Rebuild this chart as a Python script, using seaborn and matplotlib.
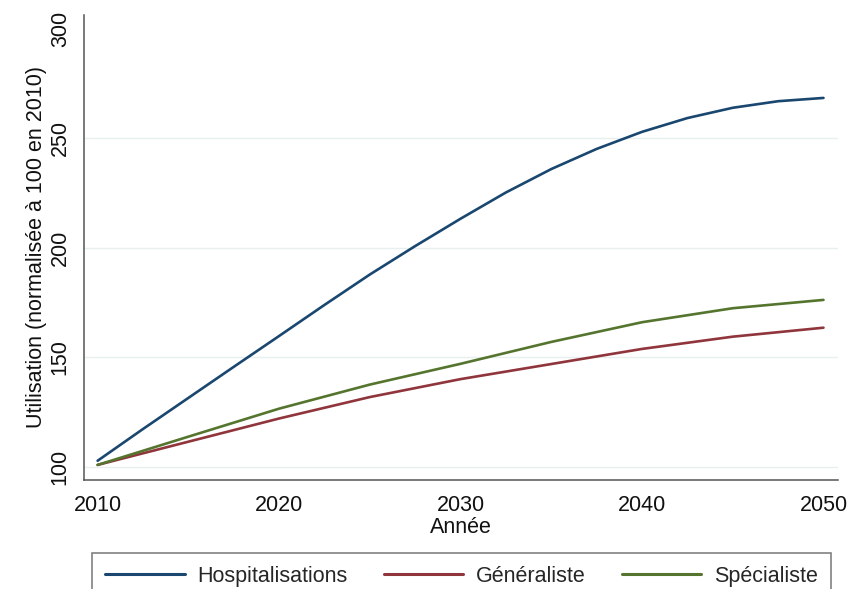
import numpy as np
import pandas as pd
import seaborn as sns
import matplotlib.pyplot as plt

# values
annees_h = [2010, 2012.5, 2015, 2017.5, 2020, 2022.5, 2025, 2027.5, 2030,
            2032.5, 2035, 2037.5, 2040, 2042.5, 2045, 2047.5, 2050]
hospitalisations = [102.7, 117.2, 131.4, 145.6, 159.7, 173.9, 187.8, 200.8, 213.3,
                    225.3, 236.0, 245.2, 253.0, 259.3, 264.0, 267.0, 268.5]
annees = [2010, 2015, 2020, 2025, 2030, 2035, 2040, 2045, 2050]
generaliste = [100.8, 111.4, 122.0, 131.8, 140.0, 146.9, 153.8, 159.4, 163.5]
specialiste = [100.8, 113.7, 126.5, 137.5, 147.0, 157.0, 166.0, 172.4, 176.2]

series = ['Hospitalisations', 'Généraliste', 'Spécialiste']
couleurs = ['#1a476f', '#90353b', '#55752f']

df = pd.concat([
    pd.DataFrame({'Année': annees_h, 'valeur': hospitalisations, 'serie': series[0]}),
    pd.DataFrame({'Année': annees, 'valeur': generaliste, 'serie': series[1]}),
    pd.DataFrame({'Année': annees, 'valeur': specialiste, 'serie': series[2]}),
], ignore_index=True)

sns.set_style('white')
plt.rcParams['font.family'] = ['Liberation Sans', 'DejaVu Sans']
plt.rcParams['font.size'] = 15.5

fig = plt.figure(figsize=(8.49, 5.89), dpi=100)
ax = fig.add_axes([84 / 849, 1 - 480 / 589, (838 - 84) / 849, (480 - 15) / 589])

sns.lineplot(data=df, x='Année', y='valeur', hue='serie', hue_order=series,
             palette=dict(zip(series, couleurs)), linewidth=1.9, ax=ax)

ax.set_xlim(2009.25, 2050.8)
ax.set_ylim(93.9, 306.4)
ax.set_xticks([2010, 2020, 2030, 2040, 2050])
ax.set_yticks([100, 150, 200, 250, 300])
for v in [100, 150, 200, 250]:
    ax.axhline(v, color='#e8efef', lw=1.0, zorder=0)

for s in ['top', 'right']:
    ax.spines[s].set_visible(False)
for s in ['left', 'bottom']:
    ax.spines[s].set_color('#555555')
    ax.spines[s].set_linewidth(1.1)

ax.tick_params(axis='both', direction='out', length=5.5, width=1.0,
               color='#555555', labelsize=15.5, labelcolor='#111111')
ax.tick_params(axis='x', pad=5)
ax.tick_params(axis='y', pad=4)
for lab in ax.get_yticklabels():
    lab.set_rotation(90)
    lab.set_va('center')

ax.set_xlabel('Année', fontsize=15.5, labelpad=1, color='#111111')
ax.set_ylabel('Utilisation (normalisée à 100 en 2010)', fontsize=15.5,
              labelpad=2, color='#111111')

handles, labels = ax.get_legend_handles_labels()
ax.get_legend().remove()
leg = fig.legend(handles, labels, loc='upper left', ncol=3, mode='expand',
                 bbox_to_anchor=(92 / 849, 0.0, (831 - 92) / 849, 1 - 553 / 589),
                 borderaxespad=0, fontsize=15.5, handlelength=3.7,
                 handletextpad=0.6, borderpad=0.6, fancybox=False, frameon=True)
leg.get_frame().set_edgecolor('#555555')
leg.get_frame().set_linewidth(1.1)
for line in leg.get_lines():
    line.set_linewidth(2.2)

fig.savefig('out.png', dpi=100)
